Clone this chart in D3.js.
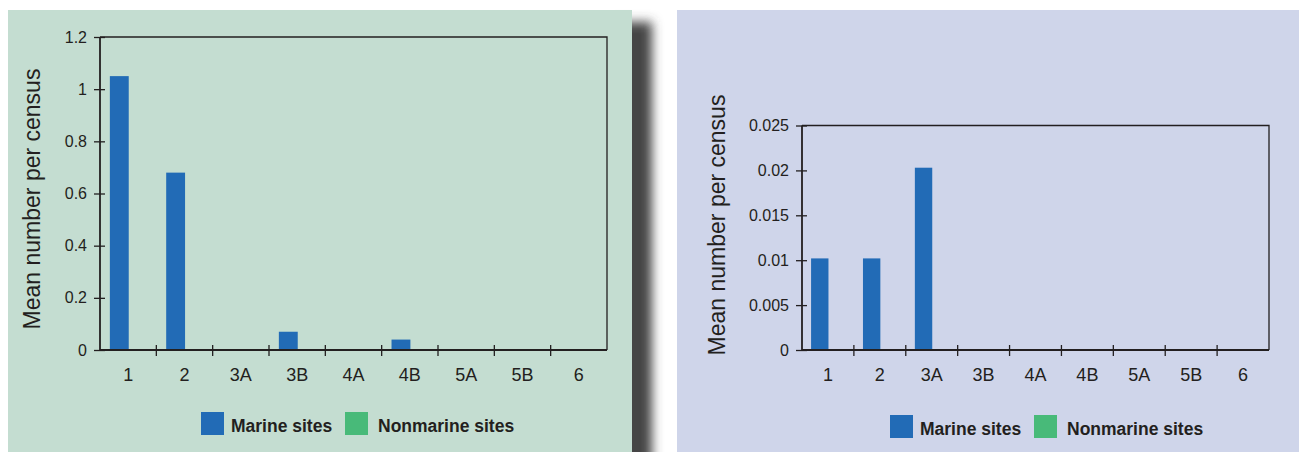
<!DOCTYPE html>
<html>
<head>
<meta charset="utf-8">
<script src="https://cdn.jsdelivr.net/npm/d3@7"></script>
<style>
  body { margin: 0; background: #fff; }
  svg { display: block; font-family: "Liberation Sans", Arial, sans-serif; }
</style>
</head>
<body>
<svg id="chart" width="1299" height="452"></svg>
<script>
const categories = ['1', '2', '3A', '3B', '4A', '4B', '5A', '5B', '6']
const seriesNames = ['Marine sites', 'Nonmarine sites']
const seriesColors = ['#226bb6', '#48ba79']

// left panel
const leftMarine = [1.05, 0.68, 0, 0.07, 0, 0.04, 0, 0, 0]
const leftNonmarine = [0, 0, 0, 0, 0, 0, 0, 0, 0]
const leftTicks = [0, 0.2, 0.4, 0.6, 0.8, 1, 1.2]

// right panel
const rightMarine = [0.0102, 0.0102, 0.0203, 0, 0, 0, 0, 0, 0]
const rightNonmarine = [0, 0, 0, 0, 0, 0, 0, 0, 0]
const rightTicks = [0, 0.005, 0.01, 0.015, 0.02, 0.025]

const ink = '#231f20'
const svg = d3.select('#chart')

// drop shadow between the panels
const defs = svg.append('defs')
defs.append('filter').attr('id', 'blur')
  .attr('x', '-50%').attr('y', '-10%').attr('width', '200%').attr('height', '120%')
  .append('feGaussianBlur').attr('stdDeviation', 5.5)
svg.append('rect')
  .attr('x', 614).attr('y', 22).attr('width', 38).attr('height', 460)
  .attr('fill', '#444').attr('filter', 'url(#blur)')

function drawPanel (cfg) {
  svg.append('rect')
    .attr('x', cfg.bg[0]).attr('y', cfg.bg[1])
    .attr('width', cfg.bg[2]).attr('height', cfg.bg[3])
    .attr('fill', cfg.fill)

  const g = svg.append('g')
  const rows = categories.map((c, i) => ({ cat: c, values: [cfg.marine[i], cfg.nonmarine[i]] }))

  const x = d3.scaleBand().domain(categories).range([cfg.left, cfg.right]).padding(0)
  const bw = x.bandwidth()
  const x1 = d3.scaleBand().domain(seriesNames).range([0.175 * bw, 0.845 * bw]).padding(0)
  const y = d3.scaleLinear().domain([0, cfg.max]).range([cfg.bottom, cfg.top])

  // bars
  g.selectAll('g.cat')
    .data(rows)
    .enter().append('g')
    .attr('class', 'cat')
    .attr('transform', d => 'translate(' + x(d.cat) + ',0)')
    .selectAll('rect')
    .data(d => d.values.map((v, k) => ({ name: seriesNames[k], value: v, color: seriesColors[k] })))
    .enter().append('rect')
    .attr('x', d => x1(d.name))
    .attr('width', x1.bandwidth())
    .attr('y', d => y(d.value))
    .attr('height', d => y(0) - y(d.value))
    .attr('fill', d => d.color)

  // frame top + right
  g.append('path')
    .attr('d', 'M' + cfg.left + ',' + cfg.top + 'H' + cfg.right + 'V' + cfg.bottom)
    .attr('fill', 'none').attr('stroke', ink).attr('stroke-width', 1.3)

  // y axis
  const yAxis = g.append('g')
    .attr('transform', 'translate(' + cfg.left + ',0)')
    .call(d3.axisLeft(y).tickValues(cfg.ticks).tickFormat(d => String(d)).tickSize(6).tickPadding(7))
  yAxis.select('.domain').attr('d', 'M0,' + cfg.top + 'V' + cfg.bottom).attr('stroke', ink).attr('stroke-width', 1.8)
  yAxis.selectAll('.tick line').attr('x1', 5).attr('stroke', ink).attr('stroke-width', 1.3)
  yAxis.selectAll('.tick text').attr('fill', ink).style('font-size', '16px')

  // x axis
  const xAxis = g.append('g')
    .attr('transform', 'translate(0,' + cfg.bottom + ')')
    .call(d3.axisBottom(x).tickSize(0))
  xAxis.select('.domain').attr('d', 'M' + cfg.left + ',0H' + cfg.right).attr('stroke', ink).attr('stroke-width', 1.8)
  xAxis.selectAll('.tick text')
    .attr('y', 31).attr('dy', 0)
    .attr('fill', ink).style('font-size', '18px')

  // boundary ticks between categories
  g.selectAll('line.sep')
    .data(categories.slice(1))
    .enter().append('line')
    .attr('class', 'sep')
    .attr('x1', d => x(d)).attr('x2', d => x(d))
    .attr('y1', cfg.bottom - 5).attr('y2', cfg.bottom + 6)
    .attr('stroke', ink).attr('stroke-width', 1.3)

  // y title
  g.append('text')
    .attr('transform', 'translate(' + cfg.titleX + ',' + cfg.titleY + ') rotate(-90)')
    .attr('text-anchor', 'middle')
    .attr('fill', ink)
    .style('font-size', '23px')
    .text('Mean number per census')

  // legend
  const leg = g.append('g').attr('transform', 'translate(' + cfg.legX + ',' + cfg.legY + ')')
  const offsets = [0, 144]
  seriesNames.forEach((name, k) => {
    leg.append('rect')
      .attr('x', offsets[k]).attr('y', 0).attr('width', 23).attr('height', 23)
      .attr('fill', seriesColors[k])
    leg.append('text')
      .attr('x', offsets[k] + 30 + (k ? 3 : 0)).attr('y', 19.5)
      .attr('fill', ink)
      .style('font-size', '17.5px').style('font-weight', 'bold')
      .text(name)
  })
}

drawPanel({
  bg: [8, 10, 624, 442], fill: '#c4ddd1',
  left: 100, right: 607, top: 37, bottom: 350,
  max: 1.2, ticks: leftTicks,
  marine: leftMarine, nonmarine: leftNonmarine,
  titleX: 40, titleY: 199,
  legX: 201, legY: 412
})

drawPanel({
  bg: [677, 10, 622, 442], fill: '#cfd5ea',
  left: 802, right: 1269, top: 125.5, bottom: 350,
  max: 0.025, ticks: rightTicks,
  marine: rightMarine, nonmarine: rightNonmarine,
  titleX: 725, titleY: 225,
  legX: 890, legY: 415
})
</script>
</body>
</html>
